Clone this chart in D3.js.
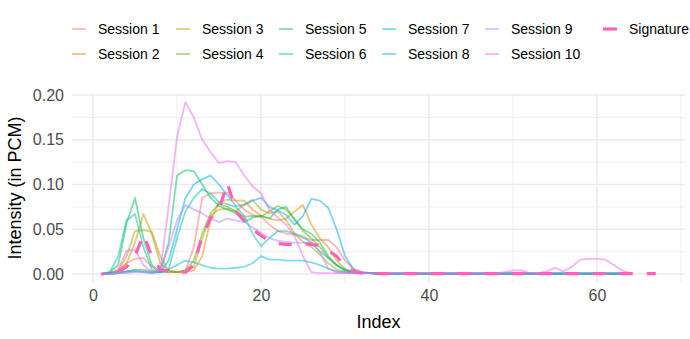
<!DOCTYPE html>
<html><head><meta charset="utf-8">
<script src="https://cdn.jsdelivr.net/npm/d3@7"></script>
<style>
html,body{margin:0;padding:0;background:#fff;}
svg text{font-family:"Liberation Sans",Arial,Helvetica,sans-serif;}
</style></head>
<body><svg id="chart" width="690" height="339"></svg>
<script>
const seriesNames = ["Session 1","Session 2","Session 3","Session 4","Session 5","Session 6","Session 7","Session 8","Session 9","Session 10","Signature"];
const seriesColors = ["#F8766D","#DB8E00","#AEA200","#64B200","#00BD5C","#00C1A7","#00BADE","#00A6FF","#B385FF","#EF67EB","#FF63B6"];

const tailZero = [0.0005,0.0005,0.0005,0.0005,0.0005,0.0005,0.0005,0.0005,0.0005,0.0005,0.0005,0.0005,0.0005,0.0005,0.0005,0.0005,0.0005,0.0005,0.0005,0.0005,0.0005,0.0005,0.0005,0.0005,0.0005,0.0005,0.0005,0.0005,0.0005,0.0005,0.0005];

const session1 = [0,0.001,0.004,0.012,0.017,0.018,0.008,0.003,0.002,0.002,0.004,0.03,0.085,0.09,0.091,0.091,0.082,0.072,0.066,0.064,0.055,0.048,0.045,0.044,0.04,0.038,0.038,0.038,0.03,0.015,0.006,0.002,0.001].concat(tailZero);
const session2 = [0,0.001,0.003,0.012,0.035,0.067,0.045,0.012,0.004,0.002,0.002,0.004,0.02,0.06,0.08,0.083,0.082,0.082,0.072,0.065,0.062,0.06,0.062,0.07,0.077,0.055,0.04,0.03,0.015,0.006,0.002,0.001,0.001].concat(tailZero);
const session3 = [0,0.001,0.004,0.02,0.048,0.049,0.047,0.02,0.004,0.002,0.002,0.008,0.04,0.065,0.072,0.073,0.07,0.078,0.083,0.072,0.068,0.07,0.06,0.045,0.036,0.03,0.022,0.012,0.005,0.002,0.001,0.001,0.001].concat(tailZero);
const session4 = [0,0,0.001,0.003,0.005,0.005,0.003,0.002,0.002,0.002,0.004,0.015,0.045,0.068,0.078,0.075,0.07,0.064,0.065,0.064,0.07,0.076,0.072,0.062,0.048,0.04,0.03,0.018,0.01,0.005,0.002,0.001,0.001].concat(tailZero);
const session5 = [0,0.002,0.01,0.057,0.085,0.04,0.01,0.002,0.035,0.11,0.116,0.115,0.1,0.085,0.076,0.072,0.068,0.058,0.063,0.065,0.062,0.072,0.075,0.06,0.05,0.045,0.035,0.02,0.01,0.004,0.002,0.001,0.001].concat(tailZero);
const session6 = [0,0.002,0.02,0.06,0.067,0.03,0.005,0.002,0.005,0.04,0.07,0.085,0.095,0.09,0.08,0.078,0.075,0.065,0.045,0.031,0.04,0.048,0.048,0.045,0.042,0.035,0.025,0.018,0.01,0.004,0.002,0.001,0.001].concat(tailZero);
const session7 = [0,0,0.001,0.002,0.003,0.002,0.001,0.002,0.005,0.01,0.015,0.013,0.01,0.007,0.006,0.006,0.007,0.008,0.012,0.02,0.016,0.016,0.015,0.015,0.015,0.013,0.01,0.006,0.003,0.002,0.001,0.001,0.001].concat(tailZero);
const session8 = [0,0.001,0.002,0.003,0.004,0.003,0.002,0.002,0.015,0.05,0.085,0.1,0.106,0.11,0.1,0.088,0.076,0.077,0.082,0.085,0.075,0.071,0.066,0.055,0.065,0.084,0.082,0.074,0.05,0.02,0.005,0.002,0.001].concat(tailZero);
const session9 = [0,0,0.001,0.001,0.002,0.002,0.001,0.004,0.03,0.06,0.077,0.072,0.068,0.062,0.058,0.062,0.06,0.058,0.052,0.046,0.04,0.037,0.036,0.035,0.035,0.035,0.025,0.006,0.002,0.001,0.001,0.001,0.001].concat(tailZero);
const session10 = [0,0,0.005,0.026,0.027,0.01,0.002,0.003,0.075,0.153,0.192,0.175,0.15,0.136,0.124,0.126,0.125,0.11,0.098,0.09,0.072,0.063,0.055,0.042,0.02,0.002,0.001,0.001,0.001,0.001,0.001,0.001,0.001,
  0.001,0.001,0.001,0.001,0.001,0.001,0.001,0.001,0.001,0.001,0.001,0.001,0.001,0.001,0.001,
  0.002,0.004,0.004,0.001,0.001,0.003,0.007,0.003,0.008,0.016,0.017,0.017,0.016,0.01,0.004,0.001];
const signature = [0,0,0.002,0.008,0.02,0.044,0.02,0.005,0.003,0.002,0.002,0.01,0.042,0.062,0.072,0.102,0.07,0.06,0.05,0.043,0.037,0.034,0.033,0.033,0.034,0.033,0.032,0.026,0.02,0.008,0.003,0.001,
  0.0005,0.0005,0.0005,0.0005,0.0005,0.0005,0.0005,0.0005,0.0005,0.0005,0.0005,0.0005,0.0005,0.0005,0.0005,0.0005,0.0005,0.0005,0.0005,0.0005,0.0005,0.0005,0.0005,0.0005,0.0005,0.0005,0.0005,0.0005,0.0005,0.0005,0.0005,0.0005,0.0005,0.0005,0.0005];

const xTicks = [0,20,40,60];
const xMinor = [10,30,50,70];
const yTicks = [0,0.05,0.10,0.15,0.20];
const yMinor = [0.025,0.075,0.125,0.175];

const sessions = [session1,session2,session3,session4,session5,session6,session7,session8,session9,session10];

const svg = d3.select("#chart");
const panel = {left:72, right:685, top:93.5, bottom:282.5};
const x = d3.scaleLinear().domain([0,60]).range([93,597]);
const y = d3.scaleLinear().domain([0,0.2]).range([274,95]);

const grid = svg.append("g");
grid.selectAll(".ymin").data(yMinor).enter().append("line")
  .attr("x1",panel.left).attr("x2",panel.right).attr("y1",d=>y(d)).attr("y2",d=>y(d))
  .attr("stroke","#EBEBEB").attr("stroke-width",0.8);
grid.selectAll(".xmin").data(xMinor).enter().append("line")
  .attr("y1",panel.top).attr("y2",panel.bottom).attr("x1",d=>x(d)).attr("x2",d=>x(d))
  .attr("stroke","#EBEBEB").attr("stroke-width",0.8);
grid.selectAll(".ymaj").data(yTicks).enter().append("line")
  .attr("x1",panel.left).attr("x2",panel.right).attr("y1",d=>y(d)).attr("y2",d=>y(d))
  .attr("stroke","#EBEBEB").attr("stroke-width",1.6);
grid.selectAll(".xmaj").data(xTicks).enter().append("line")
  .attr("y1",panel.top).attr("y2",panel.bottom).attr("x1",d=>x(d)).attr("x2",d=>x(d))
  .attr("stroke","#EBEBEB").attr("stroke-width",1.6);

const line = d3.line().x((d,i)=>x(i+1)).y(d=>y(d));
const lg = svg.append("g");
sessions.forEach((s,k)=>{
  lg.append("path").datum(s).attr("d",line).attr("fill","none")
    .attr("stroke",seriesColors[k]).attr("stroke-opacity",0.5).attr("stroke-width",1.8)
    .attr("stroke-linejoin","round");
});
const sig = lg.append("path").datum(signature).attr("d",line).attr("fill","none")
  .attr("stroke",seriesColors[10]).attr("stroke-width",3.2)
  .attr("stroke-dasharray","13,14");
// align dash phase so the line ends partway through a dash
const L = sig.node().getTotalLength();
const off = (((27 - ((L - 9) % 27)) % 27) + 27) % 27;
sig.attr("stroke-dashoffset", off);

// axes labels
const yAxis = d3.axisLeft(y).tickValues(yTicks).tickFormat(d3.format(".2f")).tickSize(0).tickPadding(0);
const ya = svg.append("g").attr("transform","translate(64,0)").call(yAxis);
ya.select(".domain").remove();
ya.selectAll("text").attr("fill","#4D4D4D").attr("font-size","16px");
const xAxis = d3.axisBottom(x).tickValues(xTicks).tickFormat(d3.format("d")).tickSize(0).tickPadding(0);
const xa = svg.append("g").attr("transform","translate(0,290)").call(xAxis);
xa.select(".domain").remove();
xa.selectAll("text").attr("fill","#4D4D4D").attr("font-size","16px");

svg.append("text").attr("x",(panel.left+panel.right)/2).attr("y",328).attr("text-anchor","middle")
  .attr("font-size","18px").attr("fill","#000").text("Index");
svg.append("text").attr("transform",`translate(21,${(panel.top+panel.bottom)/2}) rotate(-90)`)
  .attr("text-anchor","middle").attr("font-size","18px").attr("fill","#000").text("Intensity (in PCM)");

// legend
const colX = [98,202,305,408,511,629];
const rowY = [29,54];
seriesNames.forEach((n,k)=>{
  const c = Math.floor(k/2), r = k%2;
  const tx = colX[c], ty = rowY[r];
  const g = svg.append("g");
  if (k===10){
    g.append("line").attr("x1",tx-26).attr("x2",tx-12).attr("y1",ty).attr("y2",ty)
      .attr("stroke",seriesColors[k]).attr("stroke-width",3.2);
  } else {
    g.append("line").attr("x1",tx-26).attr("x2",tx-12).attr("y1",ty).attr("y2",ty)
      .attr("stroke",seriesColors[k]).attr("stroke-opacity",0.5).attr("stroke-width",1.8);
  }
  g.append("text").attr("x",tx).attr("y",ty+5).attr("font-size","14px").attr("fill","#000").text(n);
});
</script></body></html>
